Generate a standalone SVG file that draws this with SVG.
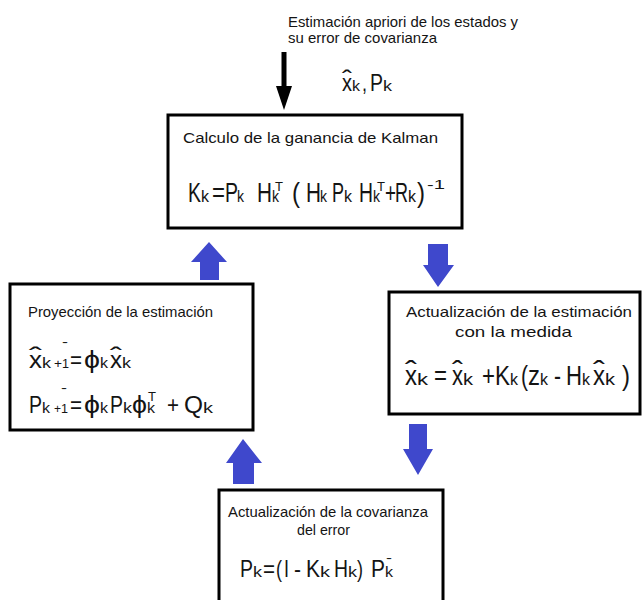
<svg xmlns="http://www.w3.org/2000/svg" width="643" height="600" viewBox="0 0 643 600">
<style>
text{font-family:"Liberation Sans",Arial,sans-serif;fill:#141414}
.l{font-size:15px}
.m{font-size:28px}
.s{font-size:17px}
.t{font-size:13px}
.m2{font-size:24px}
.s2{font-size:15px}
.t2{font-size:13px}
.box{fill:#fff;stroke:#000;stroke-width:3}
.blue{fill:#3f48cc}
</style>
<rect width="643" height="600" fill="#fff"/>
<g id="connectors">
<polygon points="281.5,52 286.5,52 286.5,86 292,86 284,110 276,86 281.5,86" fill="#000"/>
<polygon class="blue" points="209,242 227,262 219,262 219,280 200,280 200,262 191,262"/>
<polygon class="blue" points="428,244 448,244 448,265 454,265 438,287 423,265 428,265"/>
<polygon class="blue" points="243,439 262,463 254,463 254,484 233,484 233,463 226,463"/>
<polygon class="blue" points="409,424 427,424 427,449 433,449 418,475 403,449 409,449"/>
</g>
<g id="input">
<text class="l" x="288" y="27" textLength="230" lengthAdjust="spacingAndGlyphs">Estimación apriori de los estados y</text>
<text class="l" x="288" y="43" textLength="149" lengthAdjust="spacingAndGlyphs">su error de covarianza</text>
<text class="m2"><tspan x="342" y="87" textLength="10" lengthAdjust="spacingAndGlyphs">ˆ</tspan><tspan x="342" y="91" textLength="10" lengthAdjust="spacingAndGlyphs">x</tspan><tspan class="s2" x="352" y="91" textLength="8" lengthAdjust="spacingAndGlyphs">k</tspan><tspan x="362" y="91" textLength="5" lengthAdjust="spacingAndGlyphs">,</tspan><tspan x="370" y="91" textLength="13" lengthAdjust="spacingAndGlyphs">P</tspan><tspan class="s2" x="383" y="91" textLength="9" lengthAdjust="spacingAndGlyphs">k</tspan></text>
</g>
<g id="kalman-gain">
<rect class="box" x="168" y="115" width="294" height="113"/>
<text class="l" x="183" y="143" textLength="255" lengthAdjust="spacingAndGlyphs">Calculo de la ganancia de Kalman</text>
<text class="m"><tspan x="188" y="202" textLength="13" lengthAdjust="spacingAndGlyphs">K</tspan><tspan class="s" x="201" y="202" textLength="8" lengthAdjust="spacingAndGlyphs">k</tspan><tspan x="212" y="202" textLength="13" lengthAdjust="spacingAndGlyphs">=</tspan><tspan x="225" y="202" textLength="13" lengthAdjust="spacingAndGlyphs">P</tspan><tspan class="s" x="237" y="202" textLength="7" lengthAdjust="spacingAndGlyphs">k</tspan><tspan x="257" y="202" textLength="15" lengthAdjust="spacingAndGlyphs">H</tspan><tspan class="s" x="272" y="202" textLength="7" lengthAdjust="spacingAndGlyphs">k</tspan><tspan class="t" x="275" y="191" textLength="8" lengthAdjust="spacingAndGlyphs">T</tspan><tspan x="292" y="202" textLength="8" lengthAdjust="spacingAndGlyphs">(</tspan><tspan x="306" y="202" textLength="15" lengthAdjust="spacingAndGlyphs">H</tspan><tspan class="s" x="320" y="202" textLength="7" lengthAdjust="spacingAndGlyphs">k</tspan><tspan x="332" y="202" textLength="12" lengthAdjust="spacingAndGlyphs">P</tspan><tspan class="s" x="344" y="202" textLength="8" lengthAdjust="spacingAndGlyphs">k</tspan><tspan x="359" y="202" textLength="14" lengthAdjust="spacingAndGlyphs">H</tspan><tspan class="s" x="373" y="202" textLength="7" lengthAdjust="spacingAndGlyphs">k</tspan><tspan class="t" x="377" y="191" textLength="8" lengthAdjust="spacingAndGlyphs">T</tspan><tspan x="385" y="202" textLength="11" lengthAdjust="spacingAndGlyphs">+</tspan><tspan x="395" y="202" textLength="13" lengthAdjust="spacingAndGlyphs">R</tspan><tspan class="s" x="408" y="202" textLength="8" lengthAdjust="spacingAndGlyphs">k</tspan><tspan x="417" y="202" textLength="8" lengthAdjust="spacingAndGlyphs">)</tspan><tspan class="t" x="427" y="189" textLength="18" lengthAdjust="spacingAndGlyphs">-1</tspan></text>
</g>
<g id="projection">
<rect class="box" x="10" y="284" width="243" height="146"/>
<text class="l" x="28" y="317" textLength="185" lengthAdjust="spacingAndGlyphs">Proyección de la estimación</text>
<text class="m2"><tspan x="29" y="364" textLength="13" lengthAdjust="spacingAndGlyphs">ˆ</tspan><tspan x="29" y="368" textLength="13" lengthAdjust="spacingAndGlyphs">x</tspan><tspan class="s2" x="42" y="368" textLength="9" lengthAdjust="spacingAndGlyphs">k</tspan><tspan class="t2" x="54" y="368" textLength="8" lengthAdjust="spacingAndGlyphs">+</tspan><tspan class="t2" x="62" y="368" textLength="7" lengthAdjust="spacingAndGlyphs">1</tspan><tspan class="t2" x="62" y="346" textLength="6" lengthAdjust="spacingAndGlyphs">-</tspan><tspan x="70" y="368" textLength="12" lengthAdjust="spacingAndGlyphs">=</tspan><tspan x="84" y="368" textLength="16" lengthAdjust="spacingAndGlyphs">ϕ</tspan><tspan class="s2" x="100" y="368" textLength="8" lengthAdjust="spacingAndGlyphs">k</tspan><tspan x="110" y="364" textLength="12" lengthAdjust="spacingAndGlyphs">ˆ</tspan><tspan x="110" y="368" textLength="12" lengthAdjust="spacingAndGlyphs">x</tspan><tspan class="s2" x="122" y="368" textLength="9" lengthAdjust="spacingAndGlyphs">k</tspan></text>
<text class="m2"><tspan x="29" y="413" textLength="13" lengthAdjust="spacingAndGlyphs">P</tspan><tspan class="s2" x="42" y="413" textLength="8" lengthAdjust="spacingAndGlyphs">k</tspan><tspan class="t2" x="54" y="413" textLength="7" lengthAdjust="spacingAndGlyphs">+</tspan><tspan class="t2" x="61" y="413" textLength="7" lengthAdjust="spacingAndGlyphs">1</tspan><tspan class="t2" x="61" y="392" textLength="6" lengthAdjust="spacingAndGlyphs">-</tspan><tspan x="70" y="413" textLength="12" lengthAdjust="spacingAndGlyphs">=</tspan><tspan x="84" y="413" textLength="16" lengthAdjust="spacingAndGlyphs">ϕ</tspan><tspan class="s2" x="100" y="413" textLength="8" lengthAdjust="spacingAndGlyphs">k</tspan><tspan x="110" y="413" textLength="13" lengthAdjust="spacingAndGlyphs">P</tspan><tspan class="s2" x="123" y="413" textLength="9" lengthAdjust="spacingAndGlyphs">k</tspan><tspan x="132" y="413" textLength="15" lengthAdjust="spacingAndGlyphs">ϕ</tspan><tspan class="s2" x="147" y="413" textLength="8" lengthAdjust="spacingAndGlyphs">k</tspan><tspan class="t2" x="148" y="401" textLength="8" lengthAdjust="spacingAndGlyphs">T</tspan><tspan x="167" y="413" textLength="12" lengthAdjust="spacingAndGlyphs">+</tspan><tspan x="184" y="413" textLength="19" lengthAdjust="spacingAndGlyphs">Q</tspan><tspan class="s2" x="203" y="413" textLength="10" lengthAdjust="spacingAndGlyphs">k</tspan></text>
</g>
<g id="state-update">
<rect class="box" x="389" y="292" width="251" height="122"/>
<text class="l" x="406" y="317" textLength="226" lengthAdjust="spacingAndGlyphs">Actualización de la estimación</text>
<text class="l" x="455" y="337" textLength="117" lengthAdjust="spacingAndGlyphs">con la medida</text>
<text class="m"><tspan x="405" y="380" textLength="12" lengthAdjust="spacingAndGlyphs">ˆ</tspan><tspan x="405" y="385" textLength="12" lengthAdjust="spacingAndGlyphs">x</tspan><tspan class="s" x="417" y="385" textLength="11" lengthAdjust="spacingAndGlyphs">k</tspan><tspan x="434" y="385" textLength="13" lengthAdjust="spacingAndGlyphs">=</tspan><tspan x="452" y="380" textLength="11" lengthAdjust="spacingAndGlyphs">ˆ</tspan><tspan x="452" y="385" textLength="11" lengthAdjust="spacingAndGlyphs">x</tspan><tspan class="s" x="463" y="385" textLength="10" lengthAdjust="spacingAndGlyphs">k</tspan><tspan x="482" y="385" textLength="13" lengthAdjust="spacingAndGlyphs">+</tspan><tspan x="495" y="385" textLength="15" lengthAdjust="spacingAndGlyphs">K</tspan><tspan class="s" x="510" y="385" textLength="8" lengthAdjust="spacingAndGlyphs">k</tspan><tspan x="521" y="385" textLength="7" lengthAdjust="spacingAndGlyphs">(</tspan><tspan x="528" y="385" textLength="12" lengthAdjust="spacingAndGlyphs">z</tspan><tspan class="s" x="540" y="385" textLength="8" lengthAdjust="spacingAndGlyphs">k</tspan><tspan x="554" y="385" textLength="7" lengthAdjust="spacingAndGlyphs">-</tspan><tspan x="566" y="385" textLength="16" lengthAdjust="spacingAndGlyphs">H</tspan><tspan class="s" x="582" y="385" textLength="8" lengthAdjust="spacingAndGlyphs">k</tspan><tspan x="593" y="380" textLength="12" lengthAdjust="spacingAndGlyphs">ˆ</tspan><tspan x="593" y="385" textLength="12" lengthAdjust="spacingAndGlyphs">x</tspan><tspan class="s" x="605" y="385" textLength="10" lengthAdjust="spacingAndGlyphs">k</tspan><tspan x="622" y="385" textLength="8" lengthAdjust="spacingAndGlyphs">)</tspan></text>
</g>
<g id="covariance-update">
<rect class="box" x="219" y="490" width="224" height="125"/>
<text class="l" x="228" y="517" textLength="200" lengthAdjust="spacingAndGlyphs">Actualización de la covarianza</text>
<text class="l" x="297" y="535" textLength="53" lengthAdjust="spacingAndGlyphs">del error</text>
<text class="m2"><tspan x="240" y="577" textLength="13" lengthAdjust="spacingAndGlyphs">P</tspan><tspan class="s2" x="253" y="577" textLength="9" lengthAdjust="spacingAndGlyphs">k</tspan><tspan x="263" y="577" textLength="12" lengthAdjust="spacingAndGlyphs">=</tspan><tspan x="276" y="577" textLength="6" lengthAdjust="spacingAndGlyphs">(</tspan><tspan x="284" y="577" textLength="5" lengthAdjust="spacingAndGlyphs">I</tspan><tspan x="294" y="577" textLength="7" lengthAdjust="spacingAndGlyphs">-</tspan><tspan x="306" y="577" textLength="14" lengthAdjust="spacingAndGlyphs">K</tspan><tspan class="s2" x="320" y="577" textLength="10" lengthAdjust="spacingAndGlyphs">k</tspan><tspan x="334" y="577" textLength="14" lengthAdjust="spacingAndGlyphs">H</tspan><tspan class="s2" x="348" y="577" textLength="9" lengthAdjust="spacingAndGlyphs">k</tspan><tspan x="357" y="577" textLength="6" lengthAdjust="spacingAndGlyphs">)</tspan><tspan x="371" y="577" textLength="14" lengthAdjust="spacingAndGlyphs">P</tspan><tspan class="s2" x="385" y="577" textLength="8" lengthAdjust="spacingAndGlyphs">k</tspan><tspan class="t2" x="386" y="562" textLength="6" lengthAdjust="spacingAndGlyphs">-</tspan></text>
</g>
</svg>
